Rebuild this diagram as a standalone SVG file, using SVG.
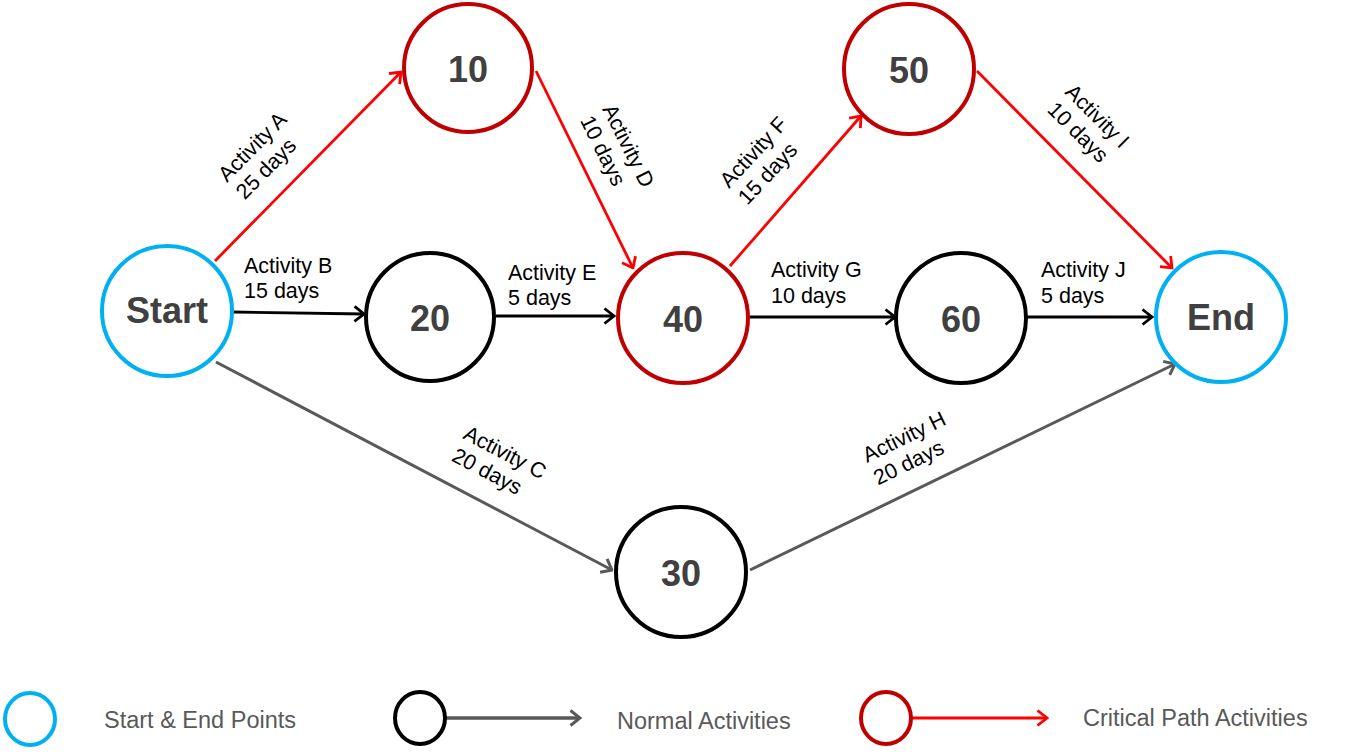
<svg xmlns="http://www.w3.org/2000/svg" width="1362" height="756" viewBox="0 0 1362 756">
<style>
.node{fill:#fff;stroke-width:4}
.se{stroke:#00B0F0}
.nm{stroke:#000}
.cr{stroke:#C00000}
.nt{font-family:"Liberation Sans",Arial,sans-serif;font-weight:bold;font-size:36px;fill:#404040;text-anchor:middle}
.lb{font-family:"Liberation Sans",Arial,sans-serif;font-size:21.5px;fill:#000}
.lg{font-family:"Liberation Sans",Arial,sans-serif;font-size:23.5px;fill:#595959}
.er{stroke:#FF0000;stroke-width:2.8;fill:none;marker-end:url(#ar)}
.eb{stroke:#000;stroke-width:2.8;fill:none;marker-end:url(#ab)}
.eg{stroke:#595959;stroke-width:3;fill:none;marker-end:url(#ag)}
</style>
<defs>
<marker id="ar" viewBox="0 0 13 18" refX="11.5" refY="9" markerWidth="13" markerHeight="18" markerUnits="userSpaceOnUse" orient="auto"><path d="M2,1.5 L11.5,9 L2,16.5" fill="none" stroke="#FF0000" stroke-width="2.8"/></marker>
<marker id="ab" viewBox="0 0 13 18" refX="11.5" refY="9" markerWidth="13" markerHeight="18" markerUnits="userSpaceOnUse" orient="auto"><path d="M2,1.5 L11.5,9 L2,16.5" fill="none" stroke="#000" stroke-width="2.8"/></marker>
<marker id="ag" viewBox="0 0 13 18" refX="11.5" refY="9" markerWidth="13" markerHeight="18" markerUnits="userSpaceOnUse" orient="auto"><path d="M2,1.5 L11.5,9 L2,16.5" fill="none" stroke="#595959" stroke-width="3"/></marker>
</defs>
<rect width="1362" height="756" fill="#fff"/>
<g id="connectors">
<line class="er" x1="215" y1="261" x2="401" y2="72"/>
<line class="eb" x1="233" y1="312" x2="364" y2="314"/>
<line class="eg" x1="216" y1="362" x2="612" y2="570"/>
<line class="er" x1="536" y1="71" x2="633" y2="268"/>
<line class="eb" x1="496" y1="316" x2="614" y2="316"/>
<line class="er" x1="730" y1="266" x2="861" y2="116"/>
<line class="eb" x1="749" y1="317" x2="895" y2="317"/>
<line class="eg" x1="750" y1="570" x2="1175" y2="364"/>
<line class="er" x1="977" y1="71" x2="1172" y2="268"/>
<line class="eb" x1="1027" y1="317" x2="1152" y2="317"/>
<g transform="translate(227,183) rotate(-45.5)"><text class="lb" x="0" y="0">Activity A</text><text class="lb" x="0" y="25">25 days</text></g>
<text class="lb" x="244" y="273">Activity B</text><text class="lb" x="244" y="298">15 days</text>
<g transform="translate(462,438) rotate(27.7)"><text class="lb" x="0" y="0">Activity C</text><text class="lb" x="0" y="25">20 days</text></g>
<g transform="translate(602,109) rotate(63.5)"><text class="lb" x="0" y="0">Activity D</text><text class="lb" x="0" y="25">10 days</text></g>
<text class="lb" x="508" y="280">Activity E</text><text class="lb" x="508" y="305">5 days</text>
<g transform="translate(729,189) rotate(-47)"><text class="lb" x="0" y="0">Activity F</text><text class="lb" x="0" y="25">15 days</text></g>
<text class="lb" x="771" y="277">Activity G</text><text class="lb" x="771" y="303">10 days</text>
<g transform="translate(867,463) rotate(-25.9)"><text class="lb" x="0" y="0">Activity H</text><text class="lb" x="0" y="25">20 days</text></g>
<g transform="translate(1064,93) rotate(45)"><text class="lb" x="0" y="0">Activity I</text><text class="lb" x="0" y="25">10 days</text></g>
<text class="lb" x="1041" y="277">Activity J</text><text class="lb" x="1041" y="303">5 days</text>
</g>
<g id="node-start"><circle class="node se" cx="167" cy="311" r="65"/><text class="nt" x="167" y="323">Start</text></g>
<g id="node-10"><circle class="node cr" cx="468" cy="68" r="64"/><text class="nt" x="468" y="82">10</text></g>
<g id="node-20"><circle class="node nm" cx="430" cy="317" r="64"/><text class="nt" x="430" y="331">20</text></g>
<g id="node-30"><circle class="node nm" cx="681" cy="572" r="65"/><text class="nt" x="681" y="586">30</text></g>
<g id="node-40"><circle class="node cr" cx="683" cy="318" r="65"/><text class="nt" x="683" y="332">40</text></g>
<g id="node-50"><circle class="node cr" cx="909" cy="69" r="65"/><text class="nt" x="909" y="83">50</text></g>
<g id="node-60"><circle class="node nm" cx="961" cy="318" r="65"/><text class="nt" x="961" y="332">60</text></g>
<g id="node-end"><circle class="node se" cx="1221" cy="317" r="65"/><text class="nt" x="1221" y="330">End</text></g>
<g id="legend">
<ellipse class="node se" cx="30" cy="719" rx="25" ry="26"/>
<text class="lg" x="104" y="728">Start &amp; End Points</text>
<line class="eg" x1="446" y1="718" x2="580" y2="718" style="stroke-width:3.5"/>
<ellipse class="node nm" cx="420" cy="718" rx="25" ry="26"/>
<text class="lg" x="617" y="729">Normal Activities</text>
<line class="er" x1="911" y1="718" x2="1047" y2="718" style="stroke-width:3"/>
<ellipse class="node cr" cx="886" cy="718" rx="25" ry="26"/>
<text class="lg" x="1083" y="726">Critical Path Activities</text>
</g>
</svg>
